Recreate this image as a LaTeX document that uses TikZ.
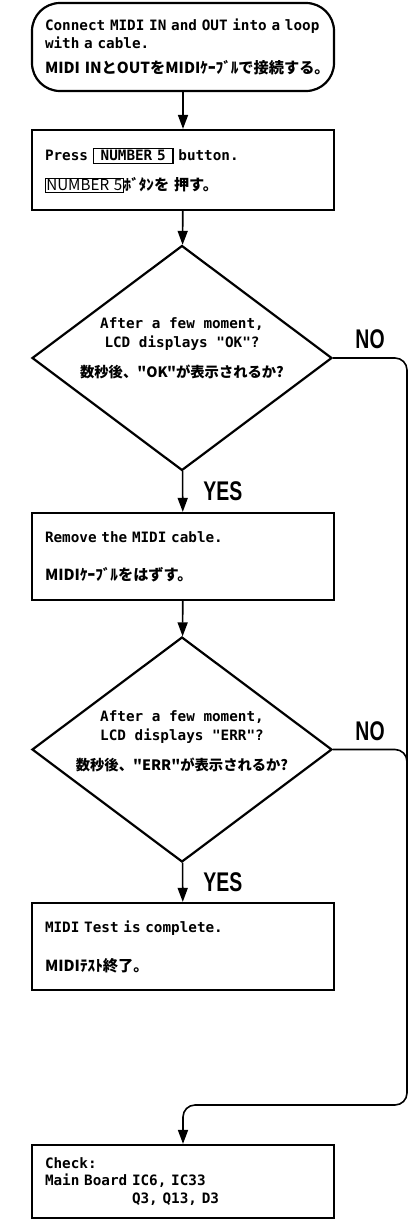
\documentclass[tikz,border=0pt]{standalone}
\usepackage{fontspec}
\setmonofont{DejaVu Sans Mono}
\newfontfamily\jpfont{Noto Sans CJK JP}
\newfontfamily\answerfont[FakeStretch=0.72]{Liberation Sans}
\usetikzlibrary{shapes.geometric,arrows.meta,positioning}
\newcommand{\jp}{\jpfont\bfseries\fontsize{15.2}{18}\selectfont}
\newcommand{\jpq}{\jpfont\bfseries\fontsize{14.3}{18}\selectfont}
\newcommand{\keycap}[1]{{\setlength{\fboxrule}{1.4pt}\setlength{\fboxsep}{1.5pt}\fbox{\hspace{5pt}#1\hspace{5pt}}}}
\newcommand{\jpkeycap}[1]{{\setlength{\fboxrule}{0.8pt}\setlength{\fboxsep}{0.5pt}\fbox{\mdseries #1}}}

\begin{document}
\begin{tikzpicture}[x=1pt,y=-1pt,
	procbox/.style={draw,line width=2.2pt,text width=280pt,inner xsep=11pt,align=left,font=\ttfamily\bfseries\fontsize{14.3}{18}\selectfont},
	decision/.style={draw,diamond,line width=2.2pt,inner sep=0pt,minimum width=300pt,minimum height=225pt},
	qtext/.style={align=center,font=\ttfamily\bfseries\fontsize{14.3}{19}\selectfont},
	answer/.style={font=\answerfont\bfseries\fontsize{27}{27}\selectfont,inner sep=2pt},
	flow/.style={line width=1.6pt,-{Triangle[length=14pt,width=10pt]}},
	line/.style={line width=1.6pt}]

	\useasboundingbox (0,0) rectangle (414,1221);

	\node[procbox,rounded corners=28pt,minimum height=88pt] (start) at (183,47) {\hspace*{2pt}Connect MIDI IN and OUT into a loop\\\hspace*{2pt}with a cable.\\[7pt]\mbox{\jp\hspace*{2pt}MIDI INとOUTをMIDIｹｰﾌﾞﾙで接続する。}};
	\node[procbox,minimum height=80pt] (press) at (183,170) {\hspace*{2pt}Press \keycap{NUMBER 5} button.\\[12pt]\mbox{\jp\hspace*{2pt}\jpkeycap{NUMBER 5}ﾎﾞﾀﾝを 押す。}};

	\node[decision] (okq) at (182,358) {};
	\node[qtext] (okqtxt) at (182,348) {After a few moment,\\LCD displays "OK"?\\[11pt]{\jpq 数秒後、"OK"が表示されるか?}};

	\node[procbox,minimum height=87pt] (remove) at (183,556.5) {\hspace*{2pt}Remove the MIDI cable.\\[20pt]\mbox{\jp\hspace*{2pt}MIDIｹｰﾌﾞﾙをはずす。}};

	\node[decision] (errq) at (182,749.5) {};
	\node[qtext] (errqtxt) at (182,741) {After a few moment,\\LCD displays "ERR"?\\[11pt]{\jpq 数秒後、"ERR"が表示されるか?}};

	\node[procbox,minimum height=87pt] (done) at (183,946.5) {\hspace*{2pt}MIDI Test is complete.\\[21pt]\mbox{\jp\hspace*{2pt}MIDIﾃｽﾄ終了。}};

	\node[procbox,minimum height=73pt,font=\ttfamily\bfseries\fontsize{14.3}{17.5}\selectfont] (check) at (183,1181.5) {\hspace*{2pt}Check:\\\hspace*{2pt}Main Board IC6, IC33\\\hspace*{2pt}\phantom{Main Board }Q3, Q13, D3};

	\coordinate (rail) at (407,1105);

	\draw[flow] (start) -- (press);
	\draw[flow] (press) -- (okq);
	\draw[flow] (okq) -- node[answer,right=18pt] (yes1) {YES} (remove);
	\draw[flow] (remove) -- (errq);
	\draw[flow] (errq) -- node[answer,right=18pt] (yes2) {YES} (done);

	\draw[flow,rounded corners=12pt] (okq.east) -- node[answer,above=6pt] (no1) {NO} (okq.east -| rail) -- (rail) -- (rail -| check.north) -- (check.north);
	\draw[line,rounded corners=12pt] (errq.east) -- node[answer,above=6pt] (no2) {NO} (errq.east -| rail) -- ++(0,30);

\end{tikzpicture}
\end{document}
